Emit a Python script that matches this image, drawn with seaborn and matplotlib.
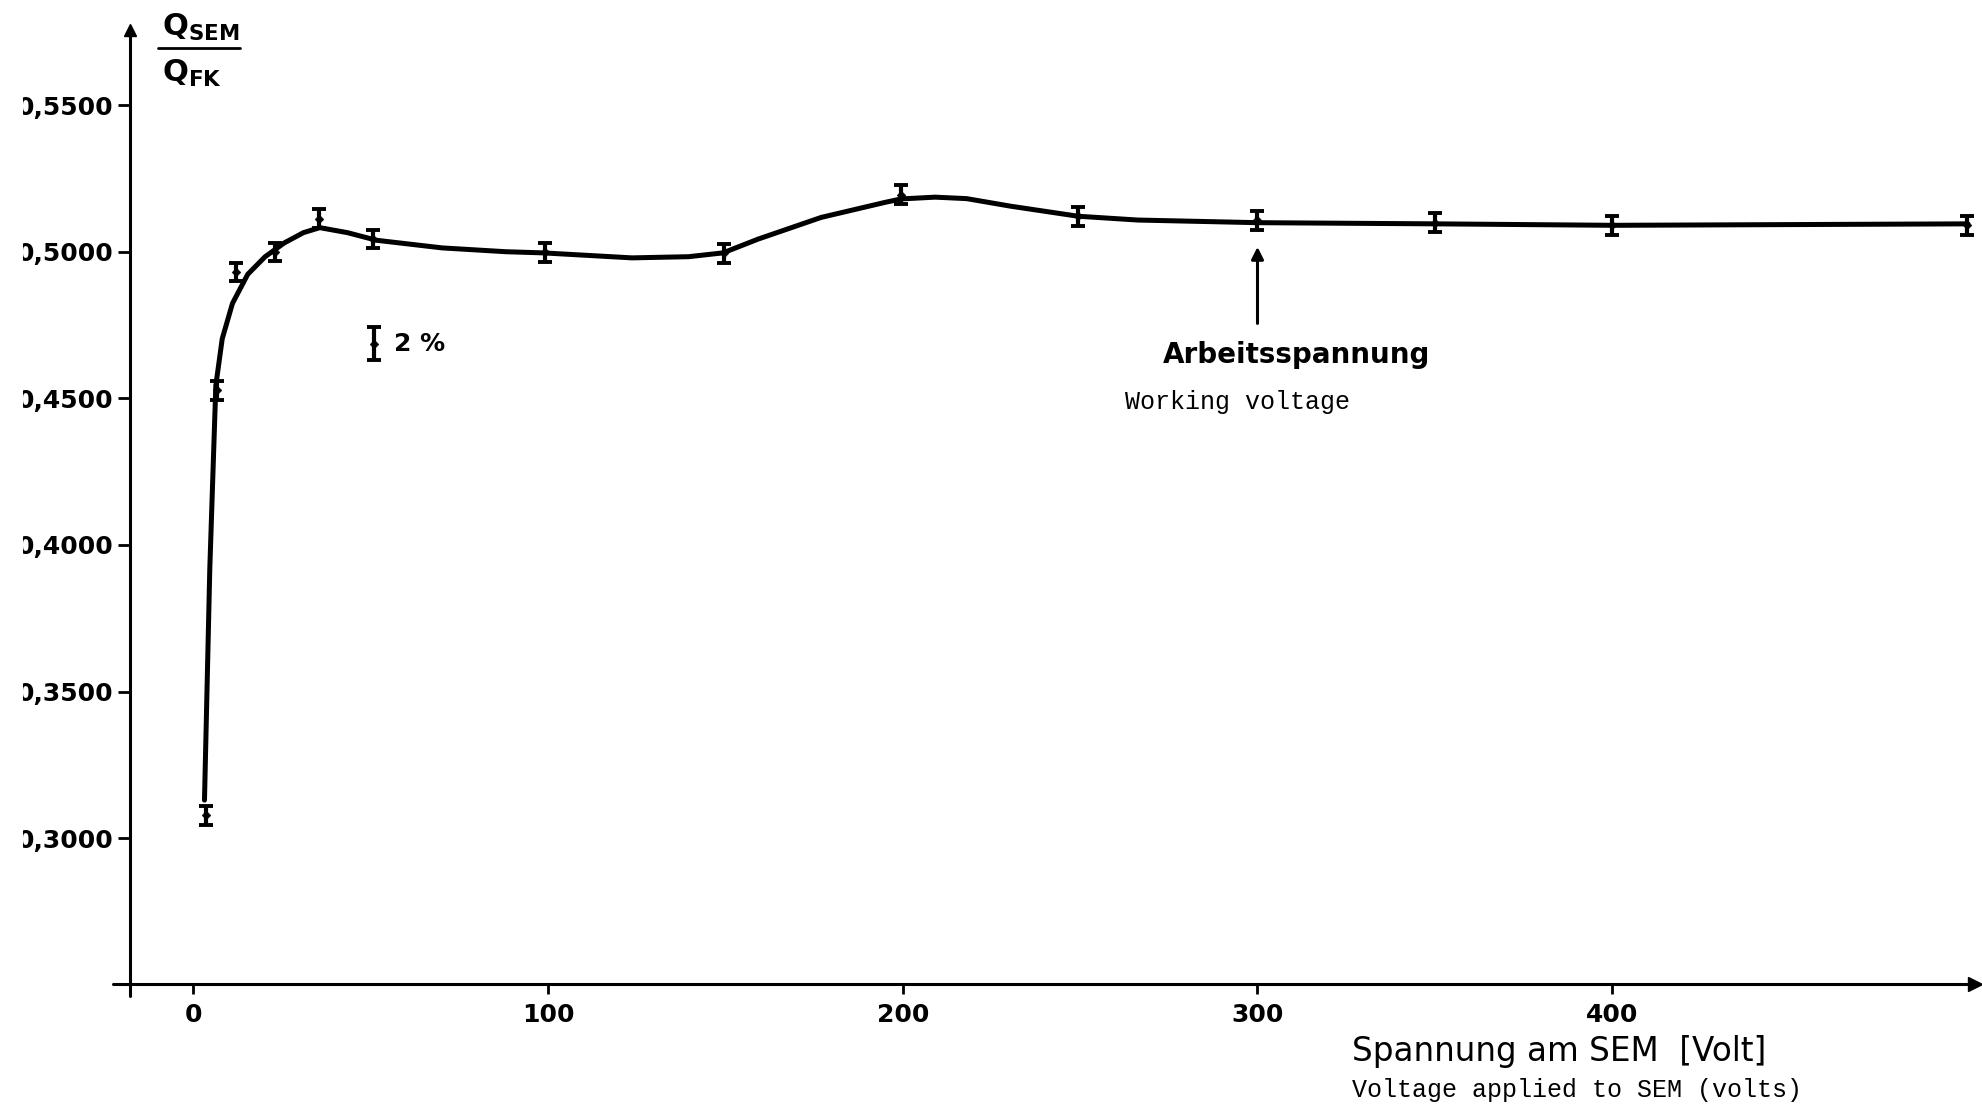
import matplotlib
matplotlib.use("Agg")
import matplotlib.pyplot as plt
from matplotlib.patches import Rectangle
from matplotlib.lines import Line2D
import seaborn as sns
import pandas as pd

# measured points (with error bars)
volts = [3.5, 6.5, 12, 23, 35.5, 50.5, 99, 149.5, 199.5, 249.5, 300, 350, 400, 500]
ratio = [0.3078, 0.4528, 0.4931, 0.4999, 0.5112, 0.5043, 0.4998, 0.4995,
         0.5194, 0.5121, 0.5107, 0.5099, 0.5090, 0.5090]
point_err = 0.0032

# hand-drawn smooth curve
curve_v = [3.1, 4.6, 6.3, 8.1, 11.0, 15.3, 20.2, 25.6, 31.0, 35.6, 43.4, 51.6,
           70.1, 88.0, 98.6, 123.6, 139.6, 149.3, 159.2, 177.0, 194.9, 199.5,
           209.1, 218.0, 230.5, 249.4, 266.2, 300.0, 350.3, 400.5, 500.3]
curve_q = [0.3130, 0.3920, 0.4544, 0.4703, 0.4824, 0.4923, 0.4983, 0.5030,
           0.5065, 0.5082, 0.5065, 0.5039, 0.5013, 0.5000, 0.4996, 0.4979,
           0.4983, 0.4996, 0.5043, 0.5117, 0.5168, 0.5180, 0.5186, 0.5181,
           0.5155, 0.5121, 0.5108, 0.5099, 0.5095, 0.5090, 0.5095]

yticks = [0.30, 0.35, 0.40, 0.45, 0.50, 0.55]
ytick_labels = ["0,3000", "0,3500", "0,4000", "0,4500", "0,5000", "0,5500"]
xticks = [0, 100, 200, 300, 400]
xtick_labels = ["0", "100", "200", "300", "400"]

scale_v, scale_q, scale_err = [50.9], [0.4686], 0.0056

sns.set_theme(style="white")
plt.rcParams["font.family"] = ["DejaVu Sans"]
plt.rcParams["mathtext.fontset"] = "dejavusans"
plt.rcParams["text.color"] = "black"

W, H = 1982, 1107
fig = plt.figure(figsize=(W / 100, H / 100), dpi=100)
fig.patch.set_facecolor("white")
ax = fig.add_axes([130 / W, (H - 984) / H, (1975 - 130) / W, (984 - 30) / H])
ax.set_facecolor("white")
ax.set_xlim(-17.9, 502.3)
ax.set_ylim(0.2503, 0.5756)

curve_df = pd.DataFrame({"v": curve_v, "q": curve_q})
sns.lineplot(data=curve_df, x="v", y="q", sort=False, estimator=None,
             color="black", lw=3.6, ax=ax)
ax.errorbar(volts, ratio, yerr=point_err, fmt="none", ecolor="black",
            elinewidth=3, capsize=5, capthick=2.8, zorder=4)
sns.scatterplot(x=volts, y=ratio, marker="D", s=20, color="black",
                edgecolor="black", ax=ax, zorder=5)

# 2 % scale bar
ax.errorbar(scale_v, scale_q, yerr=scale_err, fmt="none", ecolor="black",
            elinewidth=3, capsize=5, capthick=2.8)
sns.scatterplot(x=scale_v, y=scale_q, marker="D", s=20, color="black",
                edgecolor="black", ax=ax)
ax.text(56.6, 0.4686, "2 %", fontsize=18, fontweight="bold", va="center",
        ha="left", color="black")

# working voltage arrow
ax.annotate("", xy=(300, 0.5026), xytext=(300, 0.4746),
            arrowprops=dict(arrowstyle="-|>", color="black", lw=2.2, mutation_scale=18))
ax.text(311, 0.4647, "Arbeitsspannung", fontsize=20, fontweight="bold",
        ha="center", va="center", color="black")
ax.text(262.6, 0.4487, "Working voltage", fontsize=18, family="Liberation Mono",
        ha="left", va="center", color="black")

# axes styling
for s in ["top", "right"]:
    ax.spines[s].set_visible(False)
for s in ["left", "bottom"]:
    ax.spines[s].set_color("black")
    ax.spines[s].set_linewidth(2.2)
ax.set_yticks(yticks, labels=ytick_labels, fontsize=18, fontweight="bold")
ax.set_xticks(xticks, labels=xtick_labels, fontsize=18, fontweight="bold")
ax.tick_params(axis="y", left=True, direction="out", length=8.5, width=2,
               pad=3.5, colors="black")
ax.tick_params(axis="x", bottom=True, direction="out", length=7, width=2,
               pad=7, colors="black")
ax.set_xlabel("")
ax.set_ylabel("")

# axis extensions and arrowheads
ax.plot([-0.009, 0], [0, 0], color="black", lw=2.2, transform=ax.transAxes, clip_on=False)
ax.plot([0, 0], [-0.013, 0], color="black", lw=2.2, transform=ax.transAxes, clip_on=False)
ax.plot([1], [0], marker=">", ms=10, color="black", transform=ax.transAxes, clip_on=False)
ax.plot([0], [1], marker="^", ms=9, color="black", transform=ax.transAxes, clip_on=False)

# y-axis quantity as a fraction
fig.text(162 / W, 1 - 27 / H, r"$\mathbf{Q_{SEM}}$", fontsize=22, ha="left",
         va="center", color="black")
fig.add_artist(Line2D([158 / W, 240 / W], [1 - 48 / H, 1 - 48 / H], color="black",
                      lw=2, transform=fig.transFigure))
fig.text(162 / W, 1 - 73 / H, r"$\mathbf{Q_{FK}}$", fontsize=22, ha="left",
         va="center", color="black")

# x axis titles
fig.text(1352 / W, 1 - 1052 / H, "Spannung am SEM  [Volt]", fontsize=23.5,
         ha="left", va="center", color="black")
fig.text(1352 / W, 1 - 1090 / H, "Voltage applied to SEM (volts)", fontsize=18,
         family="Liberation Mono", ha="left", va="center", color="black")

# scan crop at the left edge
fig.add_artist(Rectangle((0, 0), 23 / W, 1, transform=fig.transFigure,
                         facecolor="white", edgecolor="none", zorder=20))

fig.savefig("out.png", dpi=100, facecolor="white")
